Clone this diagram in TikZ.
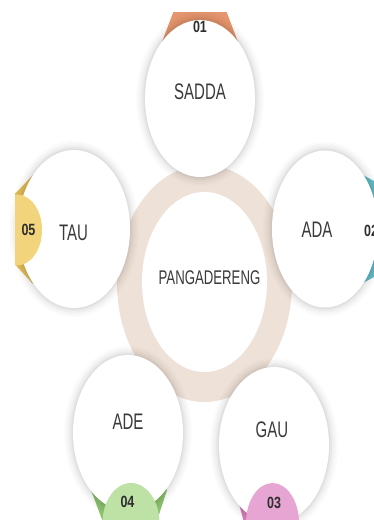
\documentclass[tikz,border=0pt]{standalone}
\usepackage{fontspec}
\usepackage{graphicx}
\setmainfont{Liberation Sans}
\usetikzlibrary{shapes.geometric}
\definecolor{ringc}{HTML}{EEE2D8}
\definecolor{orD}{HTML}{E6966E}
\definecolor{yeD}{HTML}{E4BE5A}
\definecolor{yeL}{HTML}{F2D47D}
\definecolor{cyD}{HTML}{64BEC8}
\definecolor{grD}{HTML}{8CC36E}
\definecolor{grL}{HTML}{BEE1A5}
\definecolor{piD}{HTML}{D782B9}
\definecolor{piL}{HTML}{E6A5D2}
\definecolor{txt}{HTML}{3A3A3A}
\definecolor{numc}{HTML}{2E2E2E}
\newcommand\tallt[1]{\scalebox{1}[1.5]{#1}}
\newcommand\tallnum[1]{\scalebox{1}[1.3]{#1}}
\newcommand\softshadow[3]{%
  \foreach \s/\o in {9/0.015,7/0.02,5/0.025,3/0.03,1.5/0.035}
    \fill[black,opacity=\o] (#1) ellipse [x radius=#2pt+\s pt, y radius=#3pt+\s pt];}
\tikzset{
  disc/.style={ellipse, fill=white, inner sep=0pt},
  lbl/.style={font=\fontsize{15}{18}\selectfont, text=txt, inner sep=0pt},
  clbl/.style={font=\fontsize{13.2}{16}\selectfont, text=txt, inner sep=0pt},
  num/.style={font=\bfseries\fontsize{12.5}{15}\selectfont, text=numc, inner sep=0pt},
}
\begin{document}
\begin{tikzpicture}[x=1pt,y=-1pt]
\useasboundingbox (0,0) rectangle (374,520);
\fill[white] (0,0) rectangle (374,520);
% central ring
\node[ellipse, fill=ringc, inner sep=0pt, minimum width=175pt, minimum height=237pt] (ring) at (204.5,283.5) {};
\node[ellipse, fill=white, inner sep=0pt, minimum width=125pt, minimum height=180pt] (core) at (204.5,282) {};
% dark wings behind the discs
\begin{scope}
\clip (15,12) rectangle (374,520);
\fill[orD] (200,70) -- (162,42) -- (176,5) -- (224,5) -- (238,42) -- cycle;
\fill[yeD] (60,229) -- (33,175) -- (8,201) -- (8,257) -- (33,284) -- cycle;
\fill[cyD] (330,229) -- (361,174) -- (400,195) -- (400,263) -- (361,284) -- cycle;
\fill[grD] (129,460) -- (91,490) -- (106,530) -- (154,530) -- (167,490) -- cycle;
\fill[piD] (274,470) -- (238,500) -- (246,530) -- (294,530) -- (300,505) -- cycle;
\end{scope}
% shadows
\softshadow{200,98.5}{55}{78.5}
\softshadow{74,229}{56}{79}
\softshadow{325,229}{53}{78.5}
\softshadow{128,433}{55}{78}
\softshadow{274,445}{55}{78}
% discs
\node[disc, minimum width=110pt, minimum height=157pt] (d1) at (200,98.5) {};
\node[disc, minimum width=112pt, minimum height=158pt] (d5) at (74,229) {};
\node[disc, minimum width=106pt, minimum height=157pt] (d2) at (325,229) {};
\node[disc, minimum width=110pt, minimum height=156pt] (d4) at (128,433) {};
\node[disc, minimum width=110pt, minimum height=156pt] (d3) at (274,445) {};
% light badges
\begin{scope}
\clip (15,12) rectangle (374,520);
\node[ellipse, fill=yeL, inner sep=0pt, minimum width=50pt, minimum height=71pt] (b5) at (17,230) {};
\node[ellipse, fill=grL, inner sep=0pt, minimum width=57pt, minimum height=80pt] (b4) at (131,523) {};
\node[ellipse, fill=piL, inner sep=0pt, minimum width=53pt, minimum height=80pt] (b3) at (272.5,523) {};
\end{scope}
% labels
\node[clbl] (tc) at (209.5,277.5) {\tallt{PANGADERENG}};
\node[lbl] (t1) at (200,92) {\tallt{SADDA}};
\node[lbl] (t5) at (73.5,233) {\tallt{TAU}};
\node[lbl] (t2) at (317,229.5) {\tallt{ADA}};
\node[lbl] (t4) at (128,421.5) {\tallt{ADE}};
\node[lbl] (t3) at (272,429.5) {\tallt{GAU}};
% numbers
\begin{scope}
\clip (0,0) rectangle (374,520);
\node[num] (n1) at (200,27) {\tallnum{01}};
\node[num] (n2) at (371,230.5) {\tallnum{02}};
\node[num] (n5) at (28.5,230) {\tallnum{05}};
\node[num] (n4) at (127.5,502) {\tallnum{04}};
\node[num] (n3) at (274,503) {\tallnum{03}};
\end{scope}
\end{tikzpicture}
\end{document}
